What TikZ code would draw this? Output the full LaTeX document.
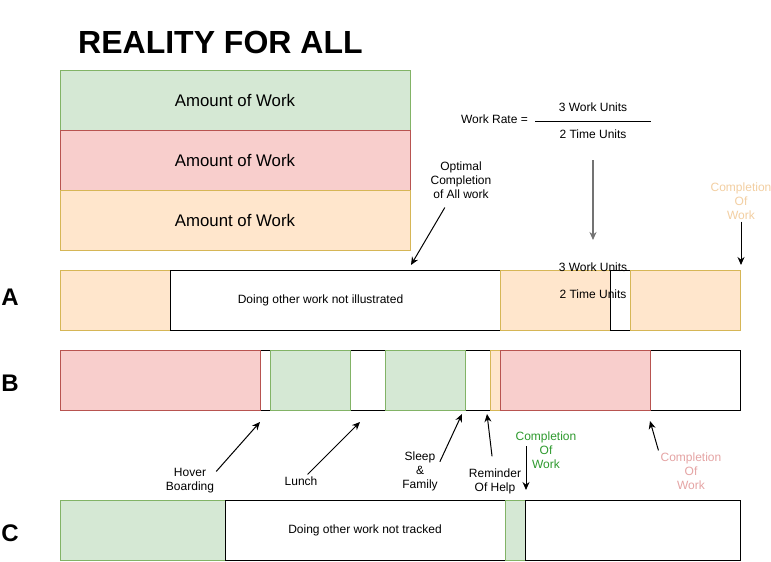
\documentclass[tikz,border=0pt]{standalone}
\usepackage{fontspec}
\setmainfont{Liberation Sans}
\usepackage{tikz}
\usetikzlibrary{positioning,arrows.meta}
\definecolor{RFAgreen}{HTML}{D5E8D4}
\definecolor{RFAgreenLine}{HTML}{82B366}
\definecolor{RFAred}{HTML}{F8CECC}
\definecolor{RFAredLine}{HTML}{B85450}
\definecolor{RFAorange}{HTML}{FFE6CC}
\definecolor{RFAorangeLine}{HTML}{D6B656}
\definecolor{RFAdoneOrange}{HTML}{F3CFA2}
\definecolor{RFAdoneGreen}{HTML}{2E9A2E}
\definecolor{RFAdonePink}{HTML}{E5A4A4}
\tikzset{
  bar/.style={minimum height=60pt, inner sep=0pt, outer sep=0pt, line width=0.9pt, font=\fontsize{12}{14}\selectfont},
  blankbar/.style={bar, draw=black, fill=white},
  greenbar/.style={bar, draw=RFAgreenLine, fill=RFAgreen},
  redbar/.style={bar, draw=RFAredLine, fill=RFAred},
  orangebar/.style={bar, draw=RFAorangeLine, fill=RFAorange},
  workbox/.style={minimum width=350pt, font=\fontsize{16.8}{19}\selectfont},
  note/.style={align=center, inner sep=2pt, font=\fontsize{12}{14}\selectfont},
  rowlabel/.style={inner sep=0pt, font=\fontsize{24}{28}\selectfont\bfseries},
  arr/.style={-{Stealth[length=8pt,width=7pt]}, line width=1pt}
}

\begin{document}
\begin{tikzpicture}[x=1pt, y=-1pt]
  \useasboundingbox[fill=white] (0,0) rectangle (771,562);
  \node[inner sep=0pt, anchor=west, font=\fontsize{32}{38}\selectfont\bfseries] (title) at (78,42) {REALITY FOR ALL};

  % amount of work
  \node[greenbar, workbox, anchor=north west] (w1) at (60,70) {Amount of Work};
  \node[redbar, workbox, below=0pt of w1] (w2) {Amount of Work};
  \node[orangebar, workbox, below=0pt of w2] (w3) {Amount of Work};

  % work rate
  \node[note, anchor=east] (rate) at (530,119) {Work Rate =};
  \node[note] (num) at (593,107) {3 Work Units};
  \node[note] (den) at (593,134.5) {2 Time Units};
  \coordinate (fracl) at (535,121);
  \coordinate (fracr) at (651,121);
  \draw[line width=1pt] (fracl) -- (fracr);

  % row A
  \node[rowlabel] (lA) at (10,297) {A};
  \node[orangebar, minimum width=110pt, anchor=north west] (a1) at (60,270) {};
  \node[blankbar, minimum width=330pt, right=0pt of a1] (a2) {};
  \node[orangebar, minimum width=110pt, right=0pt of a2] (a3) {};
  \node[blankbar, minimum width=20pt, right=0pt of a3] (a4) {};
  \node[orangebar, minimum width=110pt, right=0pt of a4] (a5) {};
  \node[note] (a2text) at (320.5,300.5) {Doing other work not illustrated};
  \node[note] (aw) at (593,267) {3 Work Units};
  \node[note] (at) at (593,294) {2 Time Units};

  % row B
  \node[rowlabel] (lB) at (10,383) {B};
  \node[blankbar, minimum width=680pt, anchor=north west] (brow) at (60,350) {};
  \node[redbar, minimum width=200pt, anchor=north west] (b1) at (60,350) {};
  \node[greenbar, minimum width=80pt, right=10pt of b1] (b2) {};
  \node[greenbar, minimum width=80pt, right=35pt of b2] (b3) {};
  \node[orangebar, minimum width=10pt, right=25pt of b3] (b4) {};
  \node[redbar, minimum width=150pt, right=0pt of b4] (b5) {};

  % row C
  \node[rowlabel] (lC) at (10,533) {C};
  \node[greenbar, minimum width=165pt, anchor=north west] (c1) at (60,500) {};
  \node[blankbar, minimum width=280pt, right=0pt of c1] (c2) {Doing other work not tracked};
  \node[greenbar, minimum width=20pt, right=0pt of c2] (c3) {};
  \node[blankbar, minimum width=215pt, right=0pt of c3] (c4) {};

  % callouts
  \node[note] (optimal) at (461,180) {Optimal\\Completion\\of All work};
  \node[note, text=RFAdoneOrange] (doneA) at (741,201) {Completion\\Of\\Work};
  \node[note] (hover) at (190,481) {Hover\\Boarding};
  \node[note] (lunch) at (301,481) {Lunch};
  \node[note] (sleep) at (420,471) {Sleep\\\&\\Family};
  \node[note] (remind) at (495,481) {Reminder\\Of Help};
  \node[note, text=RFAdoneGreen] (doneC) at (546,450) {Completion\\Of\\Work};
  \node[note, text=RFAdonePink] (doneB) at (691,471) {Completion\\Of\\Work};

  \coordinate (ratetip) at (593,240);
  \coordinate (opttip) at (411,265);
  \coordinate (doneAtip) at (741,265);
  \coordinate (hovertip) at (260,422);
  \coordinate (lunchtip) at (360,422);
  \coordinate (sleeptip) at (462,414);
  \coordinate (remtip) at (487,414);
  \coordinate (doneCtail) at (526,446);
  \coordinate (doneCtip) at (526,490);
  \coordinate (doneBtip) at (650,421);

  \draw[arr, draw=black!55, line width=1.6pt, shorten <=19pt] (den) -- (ratetip);
  \draw[arr, shorten <=8pt] (optimal) -- (opttip);
  \draw[arr] (doneA) -- (doneAtip);
  \draw[arr] (hover.20) -- (hovertip);
  \draw[arr] (lunch) -- (lunchtip);
  \draw[arr] (sleep.25) -- (sleeptip);
  \draw[arr, shorten <=10pt] (remind) -- (remtip);
  \draw[arr] (doneCtail) -- (doneCtip);
  \draw[arr] (doneB.north west) -- (doneBtip);
\end{tikzpicture}
\end{document}
